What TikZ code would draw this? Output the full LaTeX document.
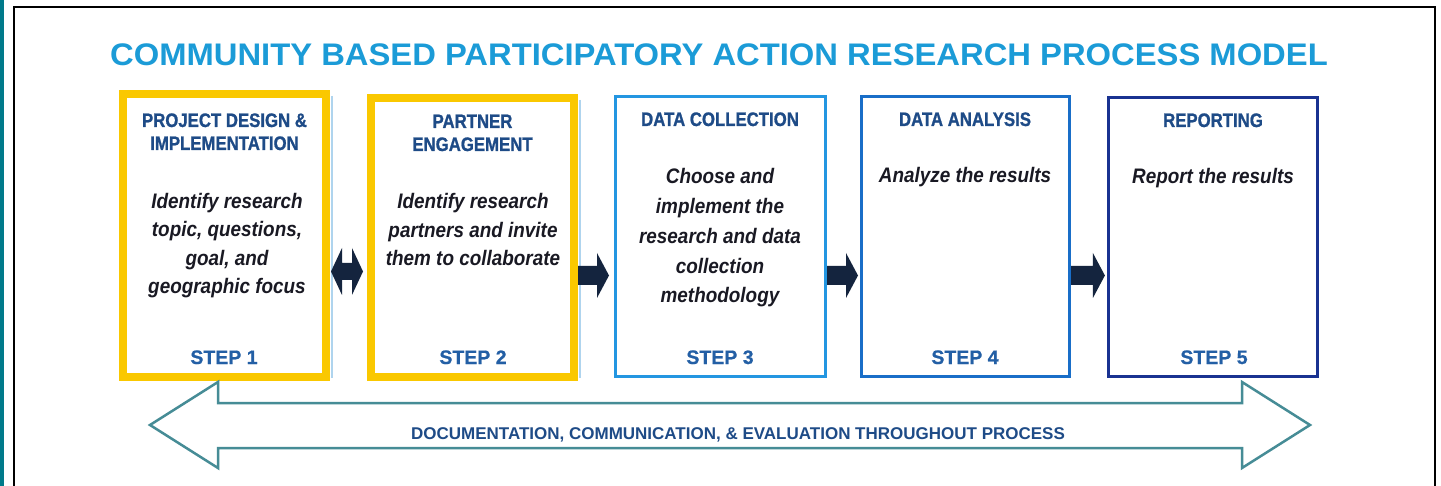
\documentclass[tikz,border=0pt]{standalone}
\usepackage{fontspec}
\setmainfont{Liberation Sans}
\newfontfamily\titlefont[FakeStretch=1.05]{Liberation Sans}
\newfontfamily\condfont[FakeStretch=0.9]{Liberation Sans}
\newfontfamily\headfont[FakeStretch=0.86,FakeBold=1]{Liberation Sans}
\newfontfamily\stepfont[FakeBold=0.6]{Liberation Sans}

\definecolor{titleblue}{RGB}{27,155,215}
\definecolor{goldframe}{RGB}{250,200,0}
\definecolor{paleedge}{RGB}{175,212,238}
\definecolor{frameC}{RGB}{35,150,225}
\definecolor{frameD}{RGB}{25,110,200}
\definecolor{frameE}{RGB}{25,50,145}
\definecolor{headblue}{RGB}{30,75,135}
\definecolor{stepblue}{RGB}{35,95,165}
\definecolor{navyarrow}{RGB}{20,36,62}
\definecolor{docteal}{RGB}{70,140,150}
\definecolor{sidebar}{RGB}{0,122,138}
\definecolor{bodyink}{RGB}{25,25,35}

% right-pointing block arrow between two named points
\newcommand{\rightblock}[2]{%
  \fill[navyarrow] ([yshift=9.5]#1) -- ([xshift=-12,yshift=9.5]#2)
    -- ([xshift=-12,yshift=22.5]#2) -- (#2) -- ([xshift=-12,yshift=-22.5]#2)
    -- ([xshift=-12,yshift=-9.5]#2) -- ([yshift=-9.5]#1) -- cycle;}
% two-headed block arrow between two named points
\newcommand{\twinblock}[2]{%
  \fill[navyarrow] (#1) -- ([xshift=11,yshift=23.5]#1) -- ([xshift=11,yshift=8.5]#1)
    -- ([xshift=-11,yshift=8.5]#2) -- ([xshift=-11,yshift=23.5]#2) -- (#2)
    -- ([xshift=-11,yshift=-23.5]#2) -- ([xshift=-11,yshift=-8.5]#2)
    -- ([xshift=11,yshift=-8.5]#1) -- ([xshift=11,yshift=-23.5]#1) -- cycle;}

\begin{document}
\begin{tikzpicture}[x=1pt,y=-1pt,
  titletext/.style={font=\titlefont\bfseries\fontsize{31.2}{34}\selectfont, text=titleblue, inner sep=0, anchor=base},
  yellowbox/.style={draw=goldframe, line width=8, fill=white, inner sep=0},
  blueboxC/.style={draw=frameC, line width=3, fill=white, inner sep=0},
  blueboxD/.style={draw=frameD, line width=3, fill=white, inner sep=0},
  blueboxE/.style={draw=frameE, line width=3.2, fill=white, inner sep=0},
  boxhead/.style={font=\headfont\bfseries\fontsize{19.5}{23}\selectfont, text=headblue, align=center, inner sep=0, anchor=base},
  boxbody/.style={font=\condfont\bfseries\itshape\fontsize{21}{28.3}\selectfont, text=bodyink, align=center, inner sep=0, anchor=base},
  steplabel/.style={font=\stepfont\bfseries\fontsize{19.5}{22}\selectfont, text=stepblue, inner sep=0, anchor=base},
  doctext/.style={font=\bfseries\fontsize{17}{20}\selectfont, text=headblue, inner sep=0, anchor=base},
]
\useasboundingbox (0,0) rectangle (1441,486);
\fill[white] (0,0) rectangle (1441,486);

% page edge and frame
\fill[sidebar] (0,0) rectangle (4,486);
\draw[black, line width=2] (14.3,486) -- (14.3,7) -- (1435,7) -- (1435,486);

% title
\node[titletext] (title) at (719,65.5) {COMMUNITY BASED PARTICIPATORY ACTION RESEARCH PROCESS MODEL};

% step boxes
\node[yellowbox, minimum width=203, minimum height=283] (b1) at (224.5,235.5) {};
\node[yellowbox, minimum width=203, minimum height=279] (b2) at (472.5,237.5) {};
\node[blueboxC, minimum width=210, minimum height=280] (b3) at (720.5,236.5) {};
\node[blueboxD, minimum width=208, minimum height=280] (b4) at (965.5,236.5) {};
\node[blueboxE, minimum width=209, minimum height=279] (b5) at (1213,237) {};

% thin pale edge beside the gold frames
\draw[paleedge, line width=2] ([xshift=1.5,yshift=-6]b1.north east) -- ([xshift=1.5,yshift=3]b1.south east);
\draw[paleedge, line width=2] ([xshift=1.5,yshift=-6]b2.north east) -- ([xshift=1.5,yshift=3]b2.south east);

% box headings (base anchor sits on the last line)
\node[boxhead] (h1) at (224.5,150) {PROJECT DESIGN \&\\IMPLEMENTATION};
\node[boxhead] (h2) at (472.5,151) {PARTNER\\ENGAGEMENT};
\node[boxhead] (h3) at (720,126) {DATA COLLECTION};
\node[boxhead] (h4) at (965,126) {DATA ANALYSIS};
\node[boxhead] (h5) at (1213,127) {REPORTING};

% box descriptions (base anchor sits on the last line)
\node[boxbody] (t1) at (227,293.5) {Identify research\\topic, questions,\\goal, and\\geographic focus};
\node[boxbody] (t2) at (473,265.5) {Identify research\\partners and invite\\them to collaborate};
\node[boxbody, font=\condfont\bfseries\itshape\fontsize{21}{29.8}\selectfont] (t3) at (720,303) {Choose and\\implement the\\research and data\\collection\\methodology};
\node[boxbody] (t4) at (965,183) {Analyze the results};
\node[boxbody] (t5) at (1213,184) {Report the results};

% step numbers
\node[steplabel] (s1) at (224,364) {STEP 1};
\node[steplabel] (s2) at (473,364) {STEP 2};
\node[steplabel] (s3) at (720,364) {STEP 3};
\node[steplabel] (s4) at (965,364) {STEP 4};
\node[steplabel] (s5) at (1214,364) {STEP 5};

% connectors between the steps
\coordinate (a1s) at ([xshift=1]b1.east |- 0,271.5);
\coordinate (a1t) at ([xshift=-4]b2.west |- 0,271.5);
\twinblock{a1s}{a1t}
\coordinate (a2s) at (b2.east |- 0,275.5);
\coordinate (a2t) at ([xshift=-5]b3.west |- 0,275.5);
\rightblock{a2s}{a2t}
\coordinate (a3s) at (b3.east |- 0,275.5);
\coordinate (a3t) at ([xshift=-2]b4.west |- 0,275.5);
\rightblock{a3s}{a3t}
\coordinate (a4s) at (b4.east |- 0,275.5);
\coordinate (a4t) at ([xshift=-2]b5.west |- 0,275.5);
\rightblock{a4s}{a4t}

% process-wide double arrow
\draw[docteal, line width=2.5, fill=white, line join=miter]
  (150,425) -- (218,382) -- (218,403) -- (1242,403) -- (1242,382) -- (1310,425)
  -- (1242,468) -- (1242,448) -- (218,448) -- (218,468) -- cycle;
\node[doctext] (doc) at (738,439) {DOCUMENTATION, COMMUNICATION, \& EVALUATION THROUGHOUT PROCESS};
\end{tikzpicture}
\end{document}
